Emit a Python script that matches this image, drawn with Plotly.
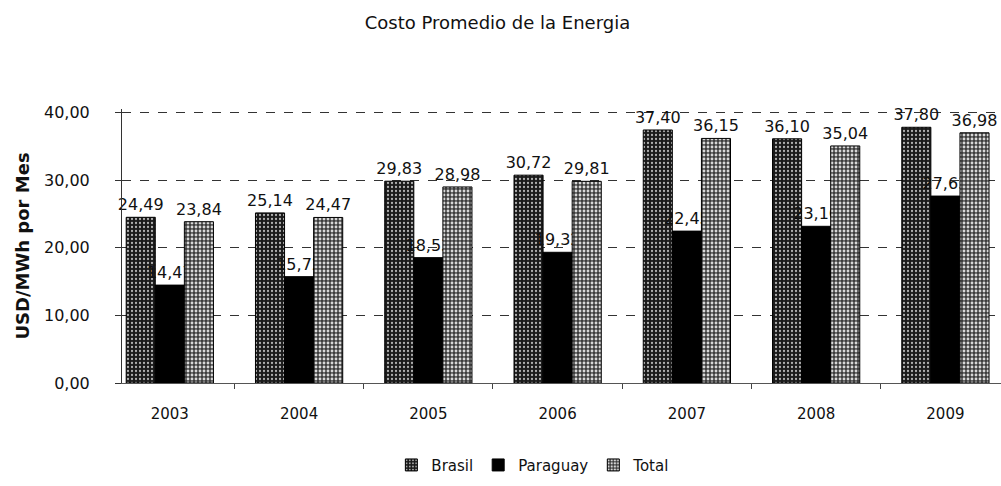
import plotly.graph_objects as go

years = ["2003", "2004", "2005", "2006", "2007", "2008", "2009"]
brasil = [24.49, 25.14, 29.83, 30.72, 37.40, 36.10, 37.80]
paraguay = [14.47, 15.72, 18.53, 19.32, 22.45, 23.16, 27.63]
total = [23.84, 24.47, 28.98, 29.81, 36.15, 35.04, 36.98]

y_ticks = [0, 10, 20, 30, 40]

FONT = "DejaVu Sans"


def fmt(values):
    return [f"{v:.2f}".replace(".", ",") for v in values]


fig = go.Figure()

fig.add_trace(go.Bar(
    name="Brasil", x=years, y=brasil,
    text=fmt(brasil), textposition="outside",
    marker=dict(
        color="#1c1c1c",
        line=dict(color="#000000", width=1),
        pattern=dict(shape=".", fgcolor="#b0b0b0", bgcolor="#1a1a1a",
                     size=4, solidity=0.25, fillmode="replace"),
    ),
))
fig.add_trace(go.Bar(
    name="Paraguay", x=years, y=paraguay,
    text=fmt(paraguay), textposition="outside",
    marker=dict(color="#000000", line=dict(color="#000000", width=1)),
))
fig.add_trace(go.Bar(
    name="Total", x=years, y=total,
    text=fmt(total), textposition="outside",
    marker=dict(
        color="#5a5a5a",
        line=dict(color="#000000", width=1),
        pattern=dict(shape=".", fgcolor="#d8d8d8", bgcolor="#3c3c3c",
                     size=4, solidity=0.4, fillmode="replace"),
    ),
))

fig.update_traces(
    textfont=dict(family=FONT, size=16, color="#111111"),
    cliponaxis=False,
    constraintext="none",
)

fig.update_layout(
    width=1001, height=486,
    margin=dict(l=122, r=0, t=109, b=103),
    paper_bgcolor="white", plot_bgcolor="white",
    separators=",.",
    barmode="group", bargap=0.325, bargroupgap=0,
    font=dict(family=FONT, size=15, color="#111111"),
    title=dict(
        text="Costo Promedio de la Energia",
        font=dict(family=FONT, size=18, color="#111111"),
        xref="container", x=0.497, xanchor="center",
        yref="container", y=0.953, yanchor="middle",
    ),
    showlegend=True,
    legend=dict(
        orientation="h", x=0.468, xanchor="center",
        y=-0.30, yanchor="middle",
        font=dict(family=FONT, size=15),
        itemwidth=30, tracegroupgap=0,
    ),
)

fig.update_xaxes(
    type="category",
    range=[-0.37, 6.43],
    showline=True, linecolor="#555555", linewidth=1,
    ticks="outside", tickson="boundaries", ticklen=5, tickcolor="#444444",
    ticklabelstandoff=17,
    tickfont=dict(family=FONT, size=15),
    showgrid=False,
)

fig.update_yaxes(
    range=[0, 40.5],
    tickvals=y_ticks,
    tickformat=".2f",
    showline=True, linecolor="#333333", linewidth=1,
    ticks="outside", ticklen=6, tickcolor="#333333",
    ticklabelstandoff=22,
    tickfont=dict(family=FONT, size=16),
    showgrid=True, gridcolor="#333333", gridwidth=1, griddash="dash",
    zeroline=False,
    title=dict(text="<b>USD/MWh por Mes</b>", font=dict(family=FONT, size=18), standoff=9),
)

fig.write_html("out.html")
